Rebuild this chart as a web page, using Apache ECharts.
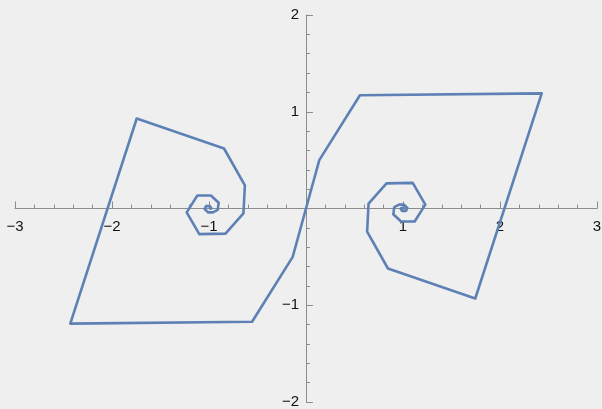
<!DOCTYPE html>
<html>
<head>
<meta charset="utf-8">
<script src="https://cdn.jsdelivr.net/npm/echarts@6/dist/echarts.min.js"></script>
<style>
html, body { margin: 0; padding: 0; background: #efefef; }
#main { width: 602px; height: 409px; }
</style>
</head>
<body>
<div id="main"></div>
<script>
// curve points, from the left spiral centre out, through origin, into the right centre
var xs = [-1.0, -0.992, -1.0, -1.01, -1.005, -0.99, -0.975, -0.99, -1.03, -1.045, -1.01, -0.96,
    -0.91, -0.90, -0.98, -1.12, -1.23, -1.10, -0.83, -0.645, -0.63, -0.845, -1.745, -2.43,
    -0.556, -0.137, 0,
    0.137, 0.556, 2.43, 1.745, 0.845, 0.63, 0.645, 0.83, 1.10, 1.23, 1.12, 0.98,
    0.90, 0.91, 0.96, 1.01, 1.045, 1.03, 0.99, 0.975, 0.99, 1.005, 1.01, 1.0, 0.992, 1.0];
var ys = [0.0, 0.0, 0.008, 0.0, -0.012, -0.015, 0.0, 0.025, 0.025, -0.005, -0.04, -0.04,
    -0.015, 0.06, 0.135, 0.135, -0.04, -0.265, -0.26, -0.05, 0.24, 0.62, 0.93, -1.19,
    -1.17, -0.50, 0,
    0.50, 1.17, 1.19, -0.93, -0.62, -0.24, 0.05, 0.26, 0.265, 0.04, -0.135, -0.135,
    -0.06, 0.015, 0.04, 0.04, 0.005, -0.025, -0.025, 0.0, 0.015, 0.012, 0.0, -0.008, 0.0, 0.0];

var xTicks = [-3, 3];
var yTicks = [-2, 2];

var pts = xs.map(function (x, i) { return [x, ys[i]]; });

var W = 602, H = 409;
var gLeft = 15, gRight = 5, gTop = 15, gBottom = 7;
var axisColor = '#8c8c8c';
function fmt(v) {
    if (v === 0) return '';
    return String(v).replace('-', '\u2212');
}

function axisStyle() {
    return {
        axisLine: { onZero: false, lineStyle: { color: axisColor, width: 1 } },
        axisTick: { inside: true, length: 7, lineStyle: { color: axisColor } },
        minorTick: { show: true, splitNumber: 5, length: 4, lineStyle: { color: axisColor } },
        splitLine: { show: false }
    };
}

var myChart = echarts.init(document.getElementById('main'));

var xAxis = Object.assign({
    type: 'value',
    min: xTicks[0],
    max: xTicks[1],
    interval: 1,
    axisLabel: {
        formatter: fmt, margin: 11, color: '#111', fontSize: 15,
        fontFamily: 'Liberation Sans', showMinLabel: true, showMaxLabel: true
    }
}, axisStyle());

var yAxis = Object.assign({
    type: 'value',
    min: yTicks[0],
    max: yTicks[1],
    interval: 1,
    axisLabel: {
        formatter: fmt, margin: 7, color: '#111', fontSize: 15,
        fontFamily: 'Liberation Sans', showMinLabel: true, showMaxLabel: true
    }
}, axisStyle());

option = {
    backgroundColor: '#efefef',
    animation: false,
    grid: { left: gLeft, right: gRight, top: gTop, bottom: gBottom, outerBoundsMode: 'none' },
    xAxis: xAxis,
    yAxis: yAxis,
    series: [{
        type: 'line',
        data: pts,
        showSymbol: false,
        lineStyle: { color: '#5e81b5', width: 2.6, join: 'round' },
        clip: false
    }]
};

myChart.setOption(option);

// move both axes so they cross at the origin
var o = myChart.convertToPixel({ gridIndex: 0 }, [0, 0]);
myChart.setOption({
    xAxis: { offset: o[1] - (H - gBottom) },
    yAxis: { offset: gLeft - o[0] }
});
</script>
</body>
</html>
